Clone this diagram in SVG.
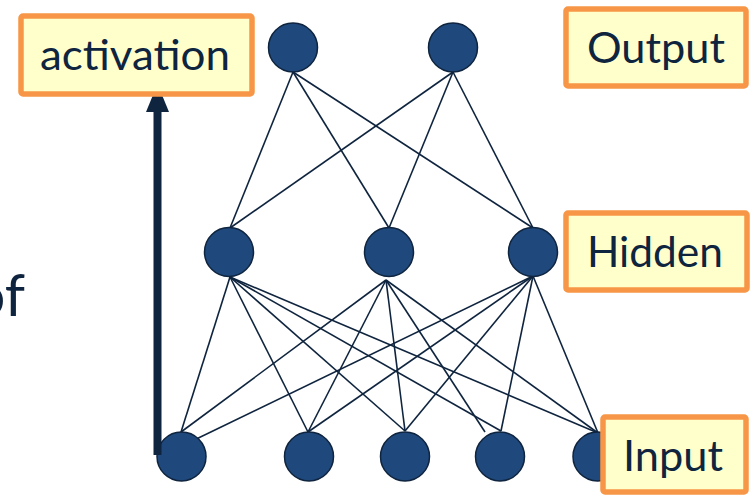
<svg xmlns="http://www.w3.org/2000/svg" width="751" height="496" viewBox="0 0 751 496">
<style>
.edge{stroke:#0f243e;stroke-width:1.6;fill:none}
.node{fill:#1f497d;stroke:#0f243e;stroke-width:1.5}
.box{fill:#ffffcc;stroke:#f79646;stroke-width:5.5}
.lbl{font-family:Lato,"Open Sans","Liberation Sans",sans-serif;font-size:42px;fill:#0f243e}
</style>
<rect width="751" height="496" fill="#ffffff"/>
<text class="lbl" x="25" y="316" text-anchor="end" style="font-size:58px">of</text>
<g id="connectors">
<line class="edge" x1="293" y1="72" x2="230" y2="228"/>
<line class="edge" x1="293" y1="72" x2="389" y2="228"/>
<line class="edge" x1="293" y1="72" x2="533" y2="228"/>
<line class="edge" x1="453" y1="72" x2="230" y2="228"/>
<line class="edge" x1="453" y1="72" x2="389" y2="228"/>
<line class="edge" x1="453" y1="72" x2="533" y2="228"/>
<line class="edge" x1="230" y1="277" x2="181" y2="432"/>
<line class="edge" x1="230" y1="277" x2="308" y2="432"/>
<line class="edge" x1="230" y1="277" x2="405" y2="431"/>
<line class="edge" x1="230" y1="277" x2="501" y2="431"/>
<line class="edge" x1="230" y1="277" x2="598" y2="433"/>
<line class="edge" x1="386" y1="280" x2="181" y2="432"/>
<line class="edge" x1="386" y1="280" x2="308" y2="432"/>
<line class="edge" x1="386" y1="280" x2="405" y2="431"/>
<line class="edge" x1="386" y1="280" x2="485" y2="432"/>
<line class="edge" x1="386" y1="280" x2="598" y2="433"/>
<line class="edge" x1="533" y1="276" x2="186" y2="444"/>
<line class="edge" x1="533" y1="276" x2="308" y2="432"/>
<line class="edge" x1="533" y1="276" x2="405" y2="431"/>
<line class="edge" x1="533" y1="276" x2="501" y2="431"/>
<line class="edge" x1="533" y1="276" x2="598" y2="433"/>
</g>
<g id="out1"><circle class="node" cx="293" cy="47.5" r="24.5"/></g>
<g id="out2"><circle class="node" cx="453" cy="47.5" r="24.5"/></g>
<g id="hid1"><circle class="node" cx="229" cy="252" r="24.5"/></g>
<g id="hid2"><circle class="node" cx="389" cy="252" r="24.5"/></g>
<g id="hid3"><circle class="node" cx="533" cy="252" r="24.5"/></g>
<g id="in1"><circle class="node" cx="181.5" cy="456.5" r="24.5"/></g>
<g id="in2"><circle class="node" cx="309" cy="456.5" r="24.5"/></g>
<g id="in3"><circle class="node" cx="405" cy="456.5" r="24.5"/></g>
<g id="in4"><circle class="node" cx="500" cy="456.5" r="24.5"/></g>
<g id="in5"><circle class="node" cx="597.5" cy="456.5" r="24.5"/></g>
<g id="arrow">
<rect x="153.5" y="108" width="8" height="347" fill="#0f243e"/>
<polygon points="157.5,84 169,112 146,112" fill="#0f243e"/>
</g>
<g id="activation">
<rect class="box" x="21" y="16" width="231" height="78" rx="2"/>
<text class="lbl" x="135" y="70" text-anchor="middle" textLength="190" lengthAdjust="spacingAndGlyphs">activation</text>
</g>
<g id="output">
<rect class="box" x="566" y="9" width="180" height="77" rx="2"/>
<text class="lbl" x="656" y="63" text-anchor="middle" textLength="138" lengthAdjust="spacingAndGlyphs">Output</text>
</g>
<g id="hidden">
<rect class="box" x="566" y="213" width="181" height="77" rx="2"/>
<text class="lbl" x="655" y="267" text-anchor="middle" textLength="136" lengthAdjust="spacingAndGlyphs">Hidden</text>
</g>
<g id="input">
<rect class="box" x="603" y="417" width="143" height="75" rx="2"/>
<text class="lbl" x="673" y="471" text-anchor="middle" textLength="100" lengthAdjust="spacingAndGlyphs">Input</text>
</g>
</svg>
